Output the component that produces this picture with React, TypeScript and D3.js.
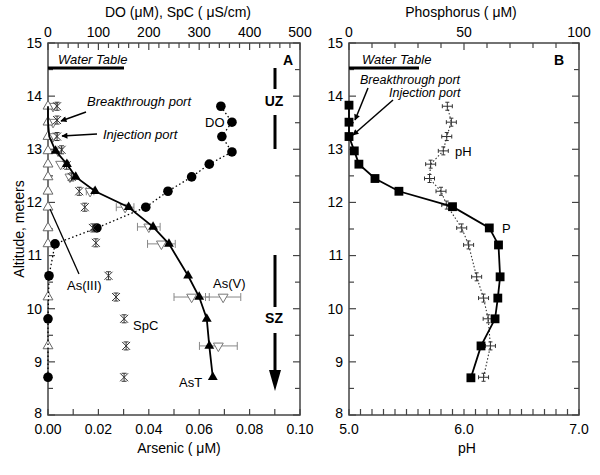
import React from 'react';
import * as d3 from 'd3';

// sampling altitudes (m) and values
const doAlt = [13.81, 13.51, 13.24, 12.95, 12.72, 12.48, 12.21, 11.91, 11.52, 11.22, 10.62, 9.81, 8.71];
const doVal = [343, 365, 345, 365, 320, 285, 238, 194, 97, 14, 2, 0, 0];

const spcAlt = [13.81, 13.55, 13.24, 12.99, 12.7, 12.48, 12.21, 11.91, 11.52, 11.24, 10.62, 10.22, 9.81, 9.3, 8.71];
const spcVal = [18, 18, 18, 27, 37, 47, 62, 73, 89, 95, 120, 135, 151, 155, 151];

const asTAlt = [13.81, 13.51, 13.24, 12.97, 12.72, 12.48, 12.21, 11.91, 11.54, 11.22, 10.62, 10.22, 9.81, 9.3, 8.71];
const asTVal = [0, 0, 0.0005, 0.003, 0.0075, 0.011, 0.0187, 0.032, 0.0417, 0.048, 0.0556, 0.06, 0.063, 0.064, 0.0654];

const asIIIAlt = [13.81, 13.51, 13.24, 12.97, 12.72, 12.48, 12.21, 11.91, 11.52, 11.22, 10.22, 9.3];
const asIIIVal = [0, 0, 0, 0, 0, 0, 0, 0, 0, 0, 0, 0];

const asVAlt = [13.81, 13.51, 13.24, 12.97, 12.72, 12.48, 12.21, 11.91, 11.54, 11.22, 10.22, 10.22, 9.3];
const asVVal = [0.002, 0.002, 0.002, 0.004, 0.005, 0.0087, 0.0167, 0.0306, 0.04, 0.045, 0.057, 0.0695, 0.0676];
const asVErr = [0, 0, 0, 0, 0, 0, 0.0015, 0.0035, 0.0045, 0.0055, 0.007, 0.007, 0.0075];

const pAlt = [13.83, 13.51, 13.24, 12.97, 12.72, 12.45, 12.21, 11.92, 11.52, 11.2, 10.6, 10.2, 9.81, 9.3, 8.7];
const pVal = [0, 0, 0, 2.3, 4.3, 11.3, 21.7, 45, 61, 65, 65.7, 64.7, 63.5, 57.4, 53];

const phAlt = [13.81, 13.51, 13.24, 12.97, 12.72, 12.45, 12.21, 11.95, 11.52, 11.2, 10.6, 10.2, 9.81, 9.3, 8.71];
const phVal = [5.855, 5.89, 5.85, 5.82, 5.71, 5.7, 5.8, 5.85, 5.98, 6.04, 6.11, 6.17, 6.21, 6.23, 6.17];

const altLabels = [8, 9, 10, 11, 12, 13, 14, 15];
const asLabels = [0, 0.02, 0.04, 0.06, 0.08, 0.1];
const doLabels = [0, 100, 200, 300, 400, 500];
const phLabels = [5, 6, 7];
const pLabels = [0, 50, 100];

const FONT = 'Liberation Sans, Arial, Helvetica, sans-serif';
const AX = '#444';

const yS = d3.scaleLinear().domain([8, 15]).range([415, 43]);
const xAs = d3.scaleLinear().domain([0, 0.1]).range([48, 300]);
const xDo = d3.scaleLinear().domain([0, 500]).range([48, 300]);
const xPh = d3.scaleLinear().domain([5, 7]).range([349, 579]);
const xP = d3.scaleLinear().domain([0, 100]).range([349, 579]);

const tri = d3.symbol(d3.symbolTriangle, 42)() as string;
const sq = d3.symbol(d3.symbolSquare, 78)() as string;
const spcPath = 'M-4,-4L4,4M4,-4L-4,4M0,-4V4M-2.5,-4H2.5M-2.5,4H2.5';
const phPath = 'M-5,0H5M-5,-2V2M5,-2V2M0,-4V4M-2,-4H2M-2,4H2';

function Frame({ xb, xt, bLabels, tLabels, bMinor, tMinor, bFmt, tFmt }: any) {
  const [x0, x1] = xb.range();
  const [yb, yt] = yS.range();
  const yMinor = d3.range(8, 15.01, 0.5);
  return (
    <g fontFamily={FONT} fontSize={14} fill="#000">
      <rect x={x0} y={yt} width={x1 - x0} height={yb - yt} fill="none" stroke={AX} strokeWidth={1.5} />
      {yMinor.map(v => {
        const major = Number.isInteger(v);
        const l = major ? 7 : 5;
        return (
          <g key={'y' + v} stroke={AX} strokeWidth={1.2}>
            <line x1={x0} x2={x0 + l} y1={yS(v)} y2={yS(v)} />
            <line x1={x1} x2={x1 - l} y1={yS(v)} y2={yS(v)} />
          </g>
        );
      })}
      {altLabels.map(v => (
        <text key={'yl' + v} x={x0 - 6} y={yS(v)} dy={v === 8 ? '0.2em' : '0.35em'} textAnchor="end">{v}</text>
      ))}
      {bMinor.map((v: number) => (
        <line key={'b' + v} x1={xb(v)} x2={xb(v)} y1={yb} y2={yb - 6} stroke={AX} strokeWidth={1.2} />
      ))}
      {bLabels.map((v: number) => (
        <text key={'bl' + v} x={xb(v)} y={434} textAnchor="middle">{bFmt(v)}</text>
      ))}
      {tMinor.map((v: number) => (
        <line key={'t' + v} x1={xt(v)} x2={xt(v)} y1={yt} y2={yt + (tLabels.includes(v) ? 7 : 5)} stroke={AX} strokeWidth={1.2} />
      ))}
      {tLabels.map((v: number) => (
        <text key={'tl' + v} x={xt(v)} y={37} textAnchor="middle">{tFmt(v)}</text>
      ))}
    </g>
  );
}

function Arrow({ x1, y1, x2, y2 }: any) {
  return <line x1={x1} y1={y1} x2={x2} y2={y2} stroke="#000" strokeWidth={1.5} markerEnd="url(#ah)" />;
}

export default function App() {
  const doLine = d3.line<number>().x((d, i) => xDo(doVal[i])).y(d => yS(d));
  const asTLine = d3.line<number>().x((d, i) => xAs(asTVal[i])).y(d => yS(d));
  const asIIILine = d3.line<number>().x((d, i) => xAs(asIIIVal[i])).y(d => yS(d));
  const pLine = d3.line<number>().x((d, i) => xP(pVal[i])).y(d => yS(d));
  const phLine = d3.line<number>().x((d, i) => xPh(phVal[i])).y(d => yS(d));

  return (
    <svg width={600} height={475} style={{ position: 'absolute', left: 0, top: 0, background: '#fff' }}>
      <defs>
        <marker id="ah" viewBox="0 0 10 10" refX={9} refY={5} markerWidth={7} markerHeight={6} orient="auto" markerUnits="userSpaceOnUse">
          <path d="M0,0L10,5L0,10z" fill="#000" />
        </marker>
      </defs>

      {/* Panel A */}
      <Frame xb={xAs} xt={xDo} bLabels={asLabels} tLabels={doLabels}
        bMinor={d3.range(0, 0.1001, 0.01).map(v => +v.toFixed(2))}
        tMinor={d3.range(0, 501, 20)}
        bFmt={(v: number) => v.toFixed(2)} tFmt={(v: number) => String(v)} />

      <path d={asIIILine(asIIIAlt) as string} fill="none" stroke="#777" strokeWidth={1.3} />
      {asVAlt.map((a, i) => asVErr[i] > 0 ? (
        <g key={'e' + i} stroke="#888" strokeWidth={1}>
          <line x1={xAs(asVVal[i] - asVErr[i])} x2={xAs(asVVal[i] + asVErr[i])} y1={yS(a)} y2={yS(a)} />
          <line x1={xAs(asVVal[i] - asVErr[i])} x2={xAs(asVVal[i] - asVErr[i])} y1={yS(a) - 4} y2={yS(a) + 4} />
          <line x1={xAs(asVVal[i] + asVErr[i])} x2={xAs(asVVal[i] + asVErr[i])} y1={yS(a) - 4} y2={yS(a) + 4} />
        </g>
      ) : null)}
      {asVAlt.map((a, i) => (
        <path key={'v' + i} d={tri} transform={`translate(${xAs(asVVal[i])},${yS(a)}) rotate(180)`} fill="#fff" stroke="#777" strokeWidth={1} />
      ))}
      {asIIIAlt.map((a, i) => (
        <path key={'iii' + i} d={tri} transform={`translate(${xAs(asIIIVal[i])},${yS(a)})`} fill="#fff" stroke="#666" strokeWidth={1} />
      ))}
      <path d={doLine(doAlt) as string} fill="none" stroke="#000" strokeWidth={1.3} strokeDasharray="1.5,2.5" />
      {doAlt.map((a, i) => (
        <circle key={'do' + i} cx={xDo(doVal[i])} cy={yS(a)} r={4.8} fill="#000" />
      ))}
      {spcAlt.map((a, i) => (
        <path key={'spc' + i} d={spcPath} transform={`translate(${xDo(spcVal[i])},${yS(a)})`} fill="none" stroke="#333" strokeWidth={1} />
      ))}
      <path d={asTLine(asTAlt) as string} fill="none" stroke="#000" strokeWidth={1.8} />
      {asTAlt.slice(3).map((a, i) => (
        <path key={'t' + i} d={tri} transform={`translate(${xAs(asTVal[i + 3])},${yS(a)})`} fill="#000" />
      ))}

      <g fontFamily={FONT} fill="#000">
        <text x={178} y={17} fontSize={14} textAnchor="middle">DO (μM), SpC ( μS/cm)</text>
        <text x={179} y={453} fontSize={14} textAnchor="middle">Arsenic ( μM)</text>
        <text transform="translate(24,229) rotate(-90)" fontSize={14} textAnchor="middle">Altitude, meters</text>
        <line x1={48} x2={124} y1={68} y2={68} stroke="#000" strokeWidth={3} />
        <text x={58} y={64} fontSize={13} fontStyle="italic">Water Table</text>
        <text x={87} y={106} fontSize={13} fontStyle="italic">Breakthrough port</text>
        <text x={103} y={139} fontSize={13} fontStyle="italic">Injection port</text>
        <text x={205} y={127} fontSize={13}>DO</text>
        <text x={67} y={290} fontSize={13}>As(III)</text>
        <text x={213} y={288} fontSize={13}>As(V)</text>
        <text x={133} y={330} fontSize={13}>SpC</text>
        <text x={179} y={387} fontSize={13}>AsT</text>
        <text x={274} y={106} fontSize={14} fontWeight="bold" textAnchor="middle">UZ</text>
        <text x={274} y={323} fontSize={14} fontWeight="bold" textAnchor="middle">SZ</text>
        <text x={288} y={65} fontSize={14} fontWeight="bold" textAnchor="middle">A</text>
        <line x1={275} x2={275} y1={68} y2={89} stroke="#000" strokeWidth={3} />
        <line x1={275} x2={275} y1={115} y2={149} stroke="#000" strokeWidth={3} />
        <line x1={275} x2={275} y1={255} y2={307} stroke="#000" strokeWidth={3} />
        <line x1={275} x2={275} y1={333} y2={372} stroke="#000" strokeWidth={3} />
        <path d="M269,370L281,370L275,391z" fill="#000" />
        <line x1={79} y1={274} x2={50} y2={209} stroke="#000" strokeWidth={1.3} />
      </g>
      <Arrow x1={86} y1={112} x2={61} y2={121} />
      <Arrow x1={97} y1={134} x2={62} y2={136} />

      {/* Panel B */}
      <Frame xb={xPh} xt={xP} bLabels={phLabels} tLabels={pLabels}
        bMinor={d3.range(5, 7.001, 0.1).map(v => +v.toFixed(1))}
        tMinor={d3.range(0, 101, 10)}
        bFmt={(v: number) => v.toFixed(1)} tFmt={(v: number) => String(v)} />

      <path d={phLine(phAlt) as string} fill="none" stroke="#333" strokeWidth={1.1} strokeDasharray="1.5,2" />
      {phAlt.map((a, i) => (
        <path key={'ph' + i} d={phPath} transform={`translate(${xPh(phVal[i])},${yS(a)})`} fill="none" stroke="#333" strokeWidth={1} />
      ))}
      <path d={pLine(pAlt) as string} fill="none" stroke="#000" strokeWidth={1.8} />
      {pAlt.map((a, i) => (
        <path key={'p' + i} d={sq} transform={`translate(${xP(pVal[i])},${yS(a)})`} fill="#000" />
      ))}

      <g fontFamily={FONT} fill="#000">
        <text x={461} y={17} fontSize={14} textAnchor="middle">Phosphorus ( μM)</text>
        <text x={467} y={453} fontSize={14} textAnchor="middle">pH</text>
        <line x1={349} x2={419} y1={68} y2={68} stroke="#000" strokeWidth={3} />
        <text x={362} y={64} fontSize={13} fontStyle="italic">Water Table</text>
        <text x={360} y={84} fontSize={12.5} fontStyle="italic">Breakthrough port</text>
        <text x={389} y={97} fontSize={12.5} fontStyle="italic">Injection port</text>
        <text x={502} y={233} fontSize={13}>P</text>
        <text x={455} y={156} fontSize={13}>pH</text>
        <text x={559} y={65} fontSize={14} fontWeight="bold" textAnchor="middle">B</text>
      </g>
      <Arrow x1={368} y1={88} x2={355} y2={120} />
      <Arrow x1={393} y1={100} x2={353} y2={135} />
    </svg>
  );
}
